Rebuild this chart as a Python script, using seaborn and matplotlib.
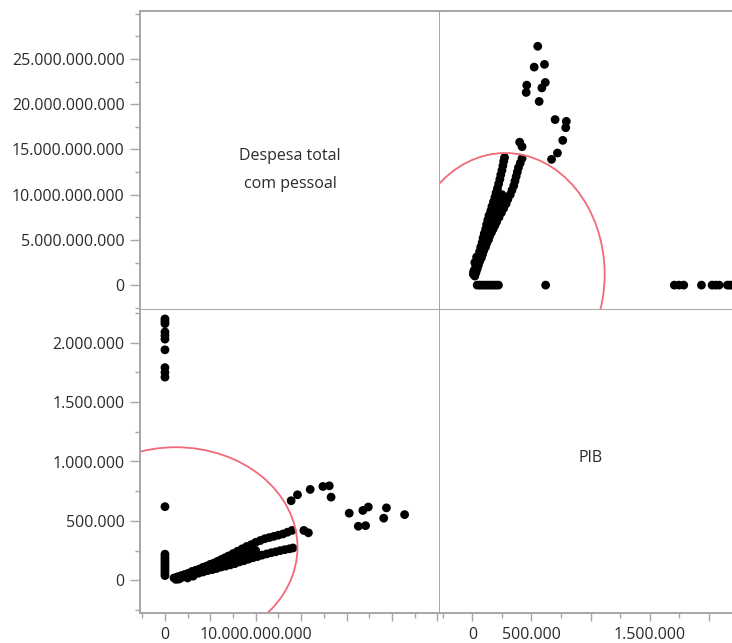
import numpy as np
import pandas as pd
import matplotlib
matplotlib.use("Agg")
import matplotlib.pyplot as plt
import seaborn as sns
from matplotlib.patches import Ellipse
from matplotlib.ticker import FixedLocator, MultipleLocator, FuncFormatter

# ---------------- data (Despesa in billions R$, PIB in millions) ----------------
# cities with zero personnel expense but high PIB
grpA_desp = [0, 0, 0, 0, 0, 0, 0, 0, 0, 0]
grpA_pib = [1.71, 1.75, 1.79, 1.94, 2.03, 2.06, 2.09, 2.16, 2.18, 2.20]
# zero personnel expense, low PIB
grpC_desp = [0, 0, 0, 0, 0, 0, 0, 0, 0, 0, 0]
grpC_pib = [0.04, 0.06, 0.08, 0.10, 0.12, 0.14, 0.16, 0.18, 0.20, 0.22, 0.62]
# upper band
up_desp = [1.0, 1.4, 1.8, 2.2, 2.6, 3.0, 3.4, 3.8, 4.2, 4.6, 5.0, 5.4, 5.8, 6.2, 6.6,
           7.0, 7.5, 8.0, 8.5, 9.0, 9.5, 10.0, 10.5, 11.0, 11.5, 12.0, 12.5, 13.0, 13.5, 14.0]
up_pib = [0.02, 0.03, 0.04, 0.05, 0.06, 0.075, 0.085, 0.095, 0.11, 0.12, 0.135, 0.145, 0.16, 0.175, 0.19,
          0.205, 0.225, 0.245, 0.265, 0.285, 0.30, 0.32, 0.335, 0.35, 0.36, 0.37, 0.38, 0.39, 0.405, 0.42]
# lower band
lo_desp = [1.2, 1.7, 2.2, 2.7, 3.2, 3.7, 4.2, 4.7, 5.2, 5.7, 6.2, 6.7, 7.2, 7.7, 8.2, 8.7,
           9.2, 9.7, 10.2, 10.7, 11.2, 11.7, 12.2, 12.7, 13.2, 13.7, 14.1]
lo_pib = [0.008, 0.018, 0.03, 0.04, 0.05, 0.06, 0.07, 0.082, 0.09, 0.10, 0.112, 0.12, 0.13, 0.14, 0.155, 0.165,
          0.178, 0.19, 0.20, 0.212, 0.222, 0.232, 0.24, 0.25, 0.258, 0.265, 0.272]
# points filling the thick part of the band
mid_desp = [1.5, 2.0, 2.5, 2.9, 3.1, 3.5, 4.0, 4.4, 4.9, 5.3, 5.5, 5.9, 6.0, 6.4, 6.8, 7.0,
            7.3, 7.9, 8.0, 8.3, 8.9, 9.4, 10.0]
mid_pib = [0.01, 0.03, 0.02, 0.05, 0.035, 0.07, 0.08, 0.09, 0.11, 0.115, 0.10, 0.13, 0.16, 0.14, 0.155, 0.17,
           0.165, 0.19, 0.17, 0.20, 0.22, 0.24, 0.25]
# large cities
hi_desp = [13.9, 14.6, 16.0, 17.4, 18.1, 18.3, 15.3, 15.8,
           26.4, 24.4, 24.1, 22.4, 21.8, 20.3, 21.3, 22.1]
hi_pib = [0.67, 0.72, 0.765, 0.79, 0.795, 0.70, 0.42, 0.40,
          0.553, 0.61, 0.523, 0.617, 0.588, 0.565, 0.455, 0.46]

# 95% density ellipse (centre and semi-axes)
ell_center_desp_bi = 1.2
ell_center_pib_mi = 0.278
ell_semi_desp_bi = 13.4
ell_semi_pib_mi = 0.842

var_desp = "Despesa total com pessoal"
var_pib = "PIB"
diag_labels = ["Despesa total\ncom pessoal", "PIB"]

desp_all = grpA_desp + grpC_desp + up_desp + lo_desp + mid_desp + hi_desp
pib_all = grpA_pib + grpC_pib + up_pib + lo_pib + mid_pib + hi_pib
df = pd.DataFrame({var_desp: np.array(desp_all) * 1e9, var_pib: np.array(pib_all) * 1e6})

# ---------------- style ----------------
sns.set_theme(style="white")
plt.rcParams["font.family"] = ["Open Sans", "DejaVu Sans"]
GREY = "#a6a6a6"
TXT = "#2b2b2b"
FS = 11.5

W, H = 732, 643
fig = plt.figure(figsize=(W / 100, H / 100), dpi=100)

def rect(x0, y0, x1, y1):
    return [x0 / W, 1 - y1 / H, (x1 - x0) / W, (y1 - y0) / H]

ax_tl = fig.add_axes(rect(140, 11, 440, 310))
ax_tr = fig.add_axes(rect(440, 11, 741, 310))
ax_bl = fig.add_axes(rect(140, 310, 440, 613))
ax_br = fig.add_axes(rect(440, 310, 741, 613))

DESP_LIM = (-2.75e9, 30.3e9)
PIB_LIM = (-0.275e6, 2.275e6)

def dotfmt(v, pos=None):
    return f"{int(round(v)):,}".replace(",", ".")

for ax in (ax_tl, ax_tr, ax_bl, ax_br):
    for s in ax.spines.values():
        s.set_color(GREY)
        s.set_linewidth(1.4)
    ax.set_facecolor("white")
    ax.tick_params(colors=GREY, labelcolor=TXT, labelsize=FS)
# avoid doubled inner borders
for ax in (ax_tr, ax_br):
    ax.spines["left"].set_visible(False)
for ax in (ax_bl, ax_br):
    ax.spines["top"].set_visible(False)

# scatter panels
sns.scatterplot(data=df, x=var_pib, y=var_desp, ax=ax_tr, color="black",
                s=40, edgecolor="none", linewidth=0, legend=False)
sns.scatterplot(data=df, x=var_desp, y=var_pib, ax=ax_bl, color="black",
                s=40, edgecolor="none", linewidth=0, legend=False)

ell_col = "#f06a7a"
ax_tr.add_patch(Ellipse((ell_center_pib_mi * 1e6, ell_center_desp_bi * 1e9),
                        2 * ell_semi_pib_mi * 1e6, 2 * ell_semi_desp_bi * 1e9,
                        fill=False, edgecolor=ell_col, linewidth=1.3))
ax_bl.add_patch(Ellipse((ell_center_desp_bi * 1e9, ell_center_pib_mi * 1e6),
                        2 * ell_semi_desp_bi * 1e9, 2 * ell_semi_pib_mi * 1e6,
                        fill=False, edgecolor=ell_col, linewidth=1.3))

# limits
ax_tl.set_xlim(DESP_LIM); ax_tl.set_ylim(DESP_LIM)
ax_tr.set_xlim(PIB_LIM); ax_tr.set_ylim(DESP_LIM)
ax_bl.set_xlim(DESP_LIM); ax_bl.set_ylim(PIB_LIM)
ax_br.set_xlim(PIB_LIM); ax_br.set_ylim(PIB_LIM)

for ax in (ax_tl, ax_tr, ax_bl, ax_br):
    ax.set_xlabel(""); ax.set_ylabel("")
    ax.set_xticks([]); ax.set_yticks([])

# top-left y axis: Despesa
desp_major = [0, 5e9, 10e9, 15e9, 20e9, 25e9]
ax_tl.yaxis.set_major_locator(FixedLocator(desp_major))
ax_tl.yaxis.set_major_formatter(FuncFormatter(dotfmt))
ax_tl.yaxis.set_minor_locator(MultipleLocator(2.5e9))
ax_tl.tick_params(axis="y", which="major", left=True, length=7, width=1, pad=4)
ax_tl.tick_params(axis="y", which="minor", left=True, length=3.5, width=1, color=GREY)

# bottom-left y axis: PIB
pib_major = [0, 5e5, 10e5, 15e5, 20e5]
ax_bl.yaxis.set_major_locator(FixedLocator(pib_major))
ax_bl.yaxis.set_major_formatter(FuncFormatter(dotfmt))
ax_bl.yaxis.set_minor_locator(MultipleLocator(2.5e5))
ax_bl.tick_params(axis="y", which="major", left=True, length=7, width=1, pad=4)
ax_bl.tick_params(axis="y", which="minor", left=True, length=3.5, width=1, color=GREY)

# bottom-left x axis: Despesa (only some labels fit)
desp_xlabels_shown = [0, 10e9]
ax_bl.xaxis.set_major_locator(FixedLocator([0, 5e9, 10e9, 15e9, 20e9, 25e9, 30e9]))
ax_bl.xaxis.set_major_formatter(FuncFormatter(
    lambda v, p: dotfmt(v) if any(abs(v - s) < 1 for s in desp_xlabels_shown) else ""))
ax_bl.xaxis.set_minor_locator(MultipleLocator(2.5e9))
ax_bl.tick_params(axis="x", which="major", bottom=True, length=6, width=1, pad=4)
ax_bl.tick_params(axis="x", which="minor", bottom=True, length=3.5, width=1, color=GREY)

# bottom-right x axis: PIB
pib_xlabels_shown = [0, 5e5, 15e5]
ax_br.xaxis.set_major_locator(FixedLocator(pib_major))
ax_br.xaxis.set_major_formatter(FuncFormatter(
    lambda v, p: dotfmt(v) if any(abs(v - s) < 1 for s in pib_xlabels_shown) else ""))
ax_br.xaxis.set_minor_locator(MultipleLocator(2.5e5))
ax_br.tick_params(axis="x", which="major", bottom=True, length=6, width=1, pad=4)
ax_br.tick_params(axis="x", which="minor", bottom=True, length=3.5, width=1, color=GREY)

# diagonal labels
ax_tl.text(0.5, 0.468, diag_labels[0], transform=ax_tl.transAxes, ha="center", va="center",
           fontsize=FS, color=TXT, linespacing=2.0)
ax_br.text(0.5, 0.51, diag_labels[1], transform=ax_br.transAxes, ha="center", va="center",
           fontsize=FS, color=TXT)

fig.savefig("out.png", dpi=100, facecolor="white")
